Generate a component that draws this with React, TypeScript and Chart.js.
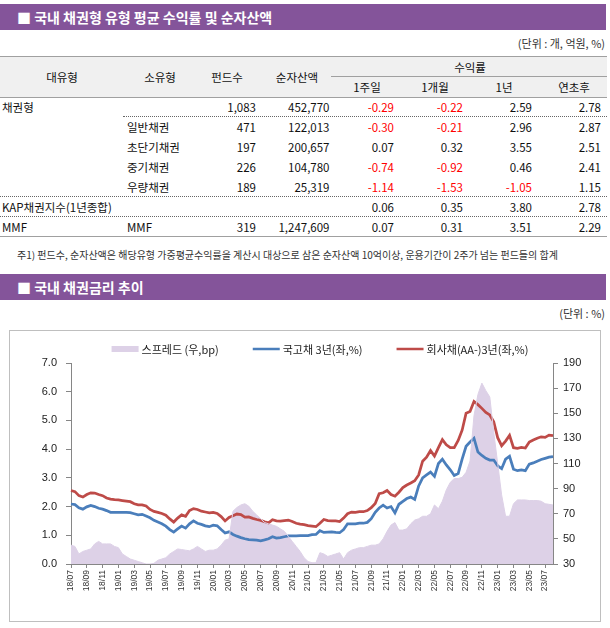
import React, { useEffect, useRef } from "react";
import { Chart, registerables } from "chart.js";

Chart.register(...registerables);

// ---------- chart data (semi-monthly readings) ----------
const dates = [
  "18/07/01","18/07/16","18/08/01","18/08/16","18/09/01","18/09/16","18/10/01","18/10/16","18/11/01","18/11/16","18/12/01","18/12/16",
  "19/01/01","19/01/16","19/02/01","19/02/16","19/03/01","19/03/16","19/04/01","19/04/16","19/05/01","19/05/16","19/06/01","19/06/16",
  "19/07/01","19/07/16","19/08/01","19/08/16","19/09/01","19/09/16","19/10/01","19/10/16","19/11/01","19/11/16","19/12/01","19/12/16",
  "20/01/01","20/01/16","20/02/01","20/02/16","20/03/01","20/03/16","20/04/01","20/04/16","20/05/01","20/05/16","20/06/01","20/06/16",
  "20/07/01","20/07/16","20/08/01","20/08/16","20/09/01","20/09/16","20/10/01","20/10/16","20/11/01","20/11/16","20/12/01","20/12/16",
  "21/01/01","21/01/16","21/02/01","21/02/16","21/03/01","21/03/16","21/04/01","21/04/16","21/05/01","21/05/16","21/06/01","21/06/16",
  "21/07/01","21/07/16","21/08/01","21/08/16","21/09/01","21/09/16","21/10/01","21/10/16","21/11/01","21/11/16","21/12/01","21/12/16",
  "22/01/01","22/01/16","22/02/01","22/02/16","22/03/01","22/03/16","22/04/01","22/04/16","22/05/01","22/05/16","22/06/01","22/06/16",
  "22/07/01","22/07/16","22/08/01","22/08/16","22/09/01","22/09/16","22/10/01","22/10/16","22/11/01","22/11/16","22/12/01","22/12/16",
  "23/01/01","23/01/16","23/02/01","23/02/16","23/03/01","23/03/16","23/04/01","23/04/16","23/05/01","23/05/16","23/06/01","23/06/16",
  "23/07/01","23/07/16","23/08/01",
];

const xTickLabels = [
  "18/07","18/09","18/11","19/01","19/03","19/05","19/07","19/09","19/11",
  "20/01","20/03","20/05","20/07","20/09","20/11","21/01","21/03","21/05","21/07","21/09","21/11",
  "22/01","22/03","22/05","22/07","22/09","22/11","23/01","23/03","23/05","23/07",
];

// 회사채(AA-) 3년, %
const corp3y = [
  2.56, 2.52, 2.38, 2.33, 2.42, 2.48, 2.47, 2.42, 2.38, 2.30, 2.26, 2.24,
  2.23, 2.21, 2.19, 2.17, 2.10, 2.06, 2.06, 2.02, 1.90, 1.83, 1.80, 1.76,
  1.70, 1.57, 1.46, 1.60, 1.71, 1.66, 1.86, 1.93, 1.90, 1.84, 1.81, 1.78,
  1.80, 1.76, 1.65, 1.50, 1.62, 1.68, 1.74, 1.72, 1.63, 1.64, 1.59, 1.55,
  1.52, 1.47, 1.43, 1.54, 1.50, 1.49, 1.51, 1.53, 1.48, 1.42, 1.39, 1.37,
  1.34, 1.32, 1.30, 1.42, 1.55, 1.51, 1.50, 1.50, 1.48, 1.60, 1.75, 1.81,
  1.80, 1.82, 1.82, 1.86, 1.96, 2.11, 2.45, 2.48, 2.56, 2.42, 2.36, 2.50,
  2.66, 2.75, 2.82, 2.90, 3.10, 3.58, 3.72, 3.95, 3.76, 4.05, 4.33, 4.15,
  4.05, 4.05, 4.30, 4.66, 5.25, 5.31, 5.66, 5.55, 5.42, 5.28, 5.19, 4.95,
  4.40, 4.12, 4.28, 4.48, 4.05, 4.03, 4.06, 4.04, 4.25, 4.32, 4.38, 4.43,
  4.41, 4.49, 4.47,
];

// 국고채 3년, %
const govt3y = [
  2.09, 2.07, 1.96, 1.91, 1.99, 2.04, 2.00, 1.94, 1.91, 1.86, 1.80, 1.80,
  1.80, 1.80, 1.80, 1.79, 1.75, 1.71, 1.73, 1.67, 1.61, 1.52, 1.46, 1.40,
  1.32, 1.20, 1.11, 1.22, 1.32, 1.25, 1.40, 1.50, 1.42, 1.38, 1.33, 1.30,
  1.35, 1.33, 1.20, 1.08, 1.12, 1.03, 0.97, 0.92, 0.88, 0.85, 0.84, 0.83,
  0.81, 0.84, 0.88, 0.95, 0.90, 0.92, 0.95, 0.98, 0.98, 0.98, 0.99, 0.99,
  0.99, 1.02, 1.03, 1.16, 1.10, 1.11, 1.12, 1.10, 1.09, 1.20, 1.40, 1.40,
  1.40, 1.42, 1.42, 1.45, 1.58, 1.80, 1.95, 2.05, 1.95, 2.00, 1.78, 2.08,
  2.18, 2.28, 2.33, 2.25, 2.72, 3.00, 3.10, 3.20, 3.05, 3.50, 3.65, 3.45,
  3.28, 3.08, 3.15, 3.65, 4.10, 4.25, 4.38, 3.90, 3.78, 3.68, 3.62, 3.62,
  3.42, 3.32, 3.65, 3.75, 3.30, 3.25, 3.28, 3.25, 3.48, 3.52, 3.58, 3.64,
  3.68, 3.72, 3.74,
];

// 스프레드, bp
const spreadBp = [
  45, 44, 38, 40, 41, 42, 46, 48, 46, 46, 46, 44,
  43, 38, 36, 34, 33, 32, 31, 30, 30, 30.5, 33, 34,
  35, 38, 40, 42, 41.5, 41, 40.5, 42, 44, 42, 40, 41,
  41, 42, 45, 49, 50, 72, 75, 77, 78, 76, 72, 69,
  66, 63, 62, 61, 60, 58, 56, 52, 48, 44, 40, 35,
  32, 31, 31, 39, 38, 36, 37, 38, 39, 34, 39, 41,
  42, 43, 43, 44, 45, 45, 46, 50, 56, 61, 63, 57,
  57, 58, 62, 65, 66, 68, 68, 70, 77, 74, 80, 89,
  95, 98, 98, 99, 103, 112, 148, 165, 174, 168, 163, 135,
  110, 85, 68, 68, 78, 81, 81, 81, 80.5, 80.5, 80.5, 80,
  78, 77.5, 77,
];

const seriesLabels = ["스프레드 (우,bp)", "국고채 3년(좌,%)", "회사채(AA-)3년(좌,%)"];

// ---------- table data ----------
const rowGroups = ["채권형", "", "", "", "", "KAP채권지수(1년종합)", "MMF"];
const rowTypes = ["", "일반채권", "초단기채권", "중기채권", "우량채권", "", "MMF"];
const fundCounts = ["1,083", "471", "197", "226", "189", "", "319"];
const netAssets = ["452,770", "122,013", "200,657", "104,780", "25,319", "", "1,247,609"];
const ret1w = ["-0.29", "-0.30", "0.07", "-0.74", "-1.14", "0.06", "0.07"];
const ret1m = ["-0.22", "-0.21", "0.32", "-0.92", "-1.53", "0.35", "0.31"];
const ret1y = ["2.59", "2.96", "3.55", "0.46", "-1.05", "3.80", "3.51"];
const retYtd = ["2.78", "2.87", "2.51", "2.41", "1.15", "2.78", "2.29"];

const KR = '"Noto Sans CJK KR", "Noto Sans", sans-serif';
const NUM = '"Liberation Sans", Arial, sans-serif';
const PURPLE = "#84549A";
const AXIS = "#868686";

const isMarked = (i: number) => {
  const d = dates[i];
  if (!d || !d.endsWith("/01")) return false;
  return xTickLabels.includes(d.slice(0, 5));
};

const legendPlugin = {
  id: "topLegend",
  afterDraw(chart: any) {
    const { ctx, chartArea } = chart;
    ctx.save();
    ctx.font = `11px ${KR}`;
    ctx.textBaseline = "middle";
    ctx.textAlign = "left";
    const iconW = 27;
    const gap = 3;
    const spacing = 34;
    const ds = chart.data.datasets;
    const widths = ds.map((d: any) => iconW + gap + ctx.measureText(d.label).width);
    const total = widths.reduce((a: number, b: number) => a + b, 0) + spacing * (ds.length - 1);
    let x = (chartArea.left + chartArea.right) / 2 + 8 - total / 2;
    const y = chartArea.top - 14;
    ds.forEach((d: any, i: number) => {
      if (d.fill) {
        ctx.fillStyle = d.backgroundColor;
        ctx.fillRect(x, y - 3, iconW, 6);
      } else {
        ctx.strokeStyle = d.borderColor;
        ctx.lineWidth = 2.5;
        ctx.beginPath();
        ctx.moveTo(x, y);
        ctx.lineTo(x + iconW, y);
        ctx.stroke();
      }
      ctx.fillStyle = "#222";
      ctx.fillText(d.label, x + iconW + gap, y + 0.5);
      x += widths[i] + spacing;
    });
    ctx.restore();
  },
};

function RateChart() {
  const ref = useRef<HTMLCanvasElement | null>(null);
  useEffect(() => {
    if (!ref.current) return;
    const chart = new Chart(ref.current, {
      type: "line",
      data: {
        labels: dates,
        datasets: [
          {
            label: seriesLabels[0],
            data: spreadBp,
            yAxisID: "y1",
            fill: "start",
            backgroundColor: "#DDD1E7",
            borderColor: "#DDD1E7",
            borderWidth: 1,
            pointRadius: 0,
          },
          {
            label: seriesLabels[1],
            data: govt3y,
            yAxisID: "y",
            fill: false,
            borderColor: "#4A7EBB",
            backgroundColor: "#4A7EBB",
            borderWidth: 2.75,
            pointRadius: 0,
          },
          {
            label: seriesLabels[2],
            data: corp3y,
            yAxisID: "y",
            fill: false,
            borderColor: "#BE4B48",
            backgroundColor: "#BE4B48",
            borderWidth: 2.75,
            pointRadius: 0,
          },
        ],
      } as any,
      options: {
        animation: false,
        responsive: false,
        devicePixelRatio: 1,
        layout: { padding: { top: 32, left: 0, right: 0, bottom: 0 } },
        elements: { line: { tension: 0 }, point: { radius: 0 } },
        plugins: {
          legend: { display: false },
          tooltip: { enabled: false },
          filler: { drawTime: "beforeDatasetsDraw" },
        } as any,
        scales: {
          x: {
            type: "category",
            offset: false,
            grid: {
              display: true,
              drawOnChartArea: false,
              drawTicks: true,
              tickLength: 4,
              tickColor: (c: any) => (isMarked(c.index) ? AXIS : "rgba(0,0,0,0)"),
            },
            border: { display: true, color: AXIS, width: 1 },
            ticks: {
              autoSkip: false,
              maxRotation: 90,
              minRotation: 90,
              padding: 2,
              color: "#333",
              font: { family: NUM, size: 8.5 },
              callback: (_v: any, i: number) => (isMarked(i) ? dates[i].slice(0, 5) : ""),
            },
            afterFit: (s: any) => {
              s.height = 57;
            },
          },
          y: {
            position: "left",
            min: 0,
            max: 7,
            grid: { drawOnChartArea: false, drawTicks: true, tickLength: 5, tickColor: AXIS },
            border: { display: true, color: AXIS, width: 1 },
            ticks: {
              stepSize: 1,
              padding: 9,
              color: "#222",
              font: { family: NUM, size: 11 },
              callback: (v: any) => Number(v).toFixed(1),
            },
            afterFit: (s: any) => {
              s.width = 61;
            },
          },
          y1: {
            position: "right",
            min: 30,
            max: 190,
            grid: { drawOnChartArea: false, drawTicks: true, tickLength: 5, tickColor: AXIS },
            border: { display: true, color: AXIS, width: 1 },
            ticks: {
              stepSize: 20,
              padding: 5,
              color: "#222",
              font: { family: NUM, size: 11 },
            },
            afterFit: (s: any) => {
              s.width = 47;
            },
          },
        },
      } as any,
      plugins: [legendPlugin],
    });
    return () => chart.destroy();
  }, []);
  return (
    <canvas
      ref={ref}
      width={590}
      height={290}
      style={{ position: "absolute", left: 10, top: 331, width: 590, height: 290 }}
    />
  );
}

const abs = (s: React.CSSProperties): React.CSSProperties => ({ position: "absolute", ...s });

function TitleBar({ top, text }: { top: number; text: string }) {
  return (
    <div
      style={abs({
        left: 0,
        top,
        width: 606,
        height: 26,
        background: PURPLE,
        color: "#fff",
        fontFamily: KR,
        fontWeight: 700,
        fontSize: 14,
        lineHeight: "26px",
        paddingLeft: 17,
        boxSizing: "border-box",
        whiteSpace: "nowrap",
      })}
    >
      {text}
    </div>
  );
}

const numRight = [256, 329.5, 394, 463, 532, 601];
const TFS = 11.5;

function Cell({ right, cy, text, color }: { right: number; cy: number; text: string; color?: string }) {
  return (
    <div
      style={abs({
        right: 610 - right,
        top: cy - 10,
        height: 20,
        lineHeight: "20px",
        fontSize: TFS,
        color: color || "#111",
        whiteSpace: "nowrap",
      })}
    >
      {text}
    </div>
  );
}

function Centered({ cx, cy, text }: { cx: number; cy: number; text: string }) {
  return (
    <div
      style={abs({
        left: cx - 50,
        width: 100,
        top: cy - 10,
        height: 20,
        lineHeight: "20px",
        textAlign: "center",
        fontSize: TFS,
        color: "#111",
      })}
    >
      {text}
    </div>
  );
}

function Table() {
  const rowsCy = rowGroups.map((_, i) => 106.7 + 20 * i);
  const retCols = [ret1w, ret1m, ret1y, retYtd];
  return (
    <>
      <div style={abs({ left: 0, top: 56, width: 607, height: 40, background: "#F0F0F0", borderTop: "1px solid #A0A0A0", borderBottom: "1px solid #A0A0A0" })} />
      <div style={abs({ left: 331, top: 76, width: 276, height: 0, borderTop: "1px solid #A0A0A0" })} />
      <Centered cx={62} cy={76.5} text="대유형" />
      <Centered cx={160} cy={76.5} text="소유형" />
      <Centered cx={227} cy={76.5} text="펀드수" />
      <Centered cx={297} cy={76.5} text="순자산액" />
      <Centered cx={470} cy={66.5} text="수익률" />
      <Centered cx={367} cy={87} text="1주일" />
      <Centered cx={435} cy={87} text="1개월" />
      <Centered cx={504} cy={87} text="1년" />
      <Centered cx={574} cy={87} text="연초후" />

      {rowsCy.map((cy, i) => (
        <React.Fragment key={i}>
          {rowGroups[i] && (
            <div style={abs({ left: 2, top: cy - 10, height: 20, lineHeight: "20px", fontSize: TFS, color: "#111", whiteSpace: "nowrap" })}>
              {rowGroups[i]}
            </div>
          )}
          {rowTypes[i] && (
            <div style={abs({ left: 127, top: cy - 10, height: 20, lineHeight: "20px", fontSize: TFS, color: "#111", whiteSpace: "nowrap" })}>
              {rowTypes[i]}
            </div>
          )}
          <Cell right={numRight[0]} cy={cy} text={fundCounts[i]} />
          <Cell right={numRight[1]} cy={cy} text={netAssets[i]} />
          {retCols.map((col, j) => (
            <Cell key={j} right={numRight[2 + j]} cy={cy} text={col[i]} color={col[i].startsWith("-") ? "#FF0000" : "#111"} />
          ))}
        </React.Fragment>
      ))}

      <div style={abs({ left: 123, top: 116, width: 484, height: 0, borderTop: "1px dotted #666" })} />
      <div style={abs({ left: 0, top: 196, width: 607, height: 0, borderTop: "1px dotted #666" })} />
      <div style={abs({ left: 0, top: 216, width: 607, height: 0, borderTop: "1px dotted #666" })} />
      <div style={abs({ left: 0, top: 236, width: 607, height: 0, borderTop: "1px solid #A0A0A0" })} />
    </>
  );
}

export default function App() {
  return (
    <div
      style={{
        position: "absolute",
        left: 0,
        top: 0,
        width: 610,
        height: 628,
        background: "#fff",
        fontFamily: KR,
        overflow: "hidden",
      }}
    >
      <TitleBar top={4} text="■ 국내 채권형 유형 평균 수익률 및 순자산액" />
      <div style={abs({ right: 5, top: 35, height: 16, lineHeight: "16px", fontSize: 11, color: "#333" })}>(단위 : 개, 억원, %)</div>
      <Table />
      <div style={abs({ left: 17, top: 247, height: 16, lineHeight: "16px", fontSize: 10, color: "#333", whiteSpace: "nowrap" })}>
        주1) 펀드수, 순자산액은 해당유형 가중평균수익률을 계산시 대상으로 삼은 순자산액 10억이상, 운용기간이 2주가 넘는 펀드들의 합계
      </div>
      <TitleBar top={274} text="■ 국내 채권금리 추이" />
      <div style={abs({ right: 5, top: 305, height: 16, lineHeight: "16px", fontSize: 11, color: "#333" })}>(단위 : %)</div>
      <div style={abs({ left: 9, top: 330, width: 592, height: 292, border: "1px solid #BFBFBF", boxSizing: "border-box" })} />
      <RateChart />
    </div>
  );
}
